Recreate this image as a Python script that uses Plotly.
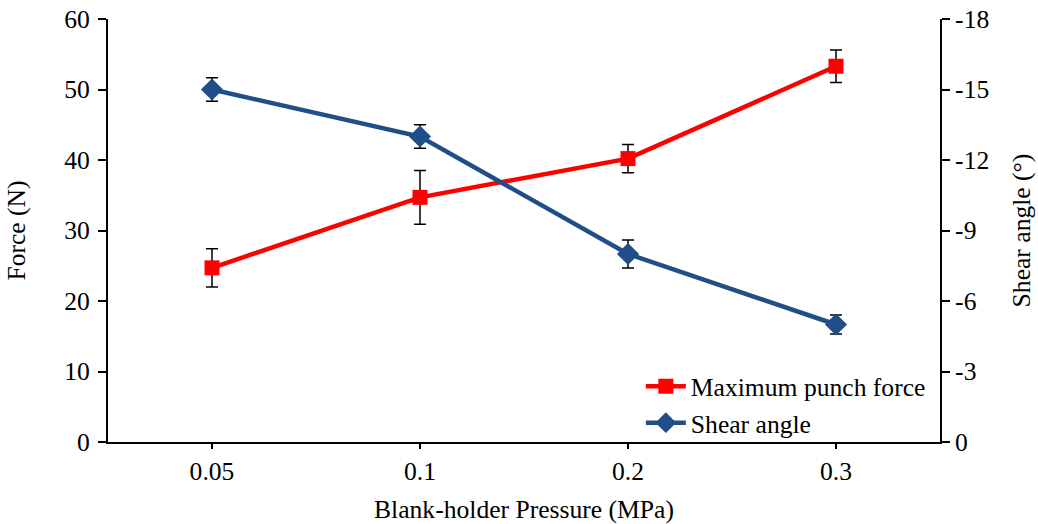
import plotly.graph_objects as go

categories = ["0.05", "0.1", "0.2", "0.3"]
force = [24.7, 34.7, 40.2, 53.3]
force_err = [2.7, 3.8, 2.0, 2.3]
shear = [-15.0, -13.0, -8.0, -5.0]
shear_err = [0.5, 0.5, 0.6, 0.4]
force_ticks = [0, 10, 20, 30, 40, 50, 60]
shear_ticks = [0, -3, -6, -9, -12, -15, -18]
shear_ticktext = ["0", "-3", "-6", "-9", "-12", "-15", "-18"]

font_family = "Liberation Serif"
fs = 25.6

fig = go.Figure()
fig.add_trace(go.Scatter(
    x=categories, y=force, name="Maximum punch force",
    mode="lines+markers",
    line=dict(color="#ff0000", width=4.5),
    marker=dict(symbol="square", size=15, color="#ff0000"),
    error_y=dict(type="data", array=force_err, visible=True, color="black", thickness=1.5, width=6),
    yaxis="y",
))
fig.add_trace(go.Scatter(
    x=categories, y=shear, name="Shear angle",
    mode="lines+markers",
    line=dict(color="#1f4e88", width=4.5),
    marker=dict(symbol="diamond", size=17, color="#1f4e88"),
    error_y=dict(type="data", array=shear_err, visible=True, color="black", thickness=1.5, width=6),
    yaxis="y2",
))

fig.update_layout(
    width=1038, height=524,
    margin=dict(l=108, r=98, t=19, b=82),
    paper_bgcolor="white", plot_bgcolor="white",
    font=dict(family=font_family, size=fs, color="black"),
    showlegend=True,
    legend=dict(x=0.989, y=-0.01, xanchor="right", yanchor="bottom",
                bgcolor="rgba(0,0,0,0)", font=dict(family=font_family, size=fs),
                tracegroupgap=0, itemwidth=40),
    xaxis=dict(
        type="category", range=[-0.5, 3.5], automargin=False,
        showline=True, linecolor="black", linewidth=2,
        ticks="outside", ticklen=5, tickwidth=1.5, tickcolor="black",
        showgrid=False, zeroline=False,
        title=dict(text="Blank-holder Pressure (MPa)", standoff=15,
                   font=dict(family=font_family, size=fs)),
        tickfont=dict(family=font_family, size=fs),
    ),
    yaxis=dict(
        range=[0, 60], tickvals=force_ticks, automargin=False,
        showline=True, linecolor="black", linewidth=2,
        ticks="outside", ticklen=8, tickwidth=1.5, tickcolor="black",
        showgrid=False, zeroline=False, ticklabelstandoff=3,
        tickfont=dict(family=font_family, size=fs),
        title=dict(text="Force (N)", standoff=31,
                   font=dict(family=font_family, size=fs)),
    ),
    yaxis2=dict(
        range=[0, -18], tickvals=shear_ticks, ticktext=shear_ticktext,
        overlaying="y", side="right", automargin=False,
        showline=True, linecolor="black", linewidth=2,
        ticks="outside", ticklen=8, tickwidth=1.5, tickcolor="black",
        showgrid=False, zeroline=False,
        tickfont=dict(family=font_family, size=fs),
        title=dict(text="Shear angle (°)", standoff=24,
                   font=dict(family=font_family, size=fs)),
    ),
)

fig.write_html("out.html")
